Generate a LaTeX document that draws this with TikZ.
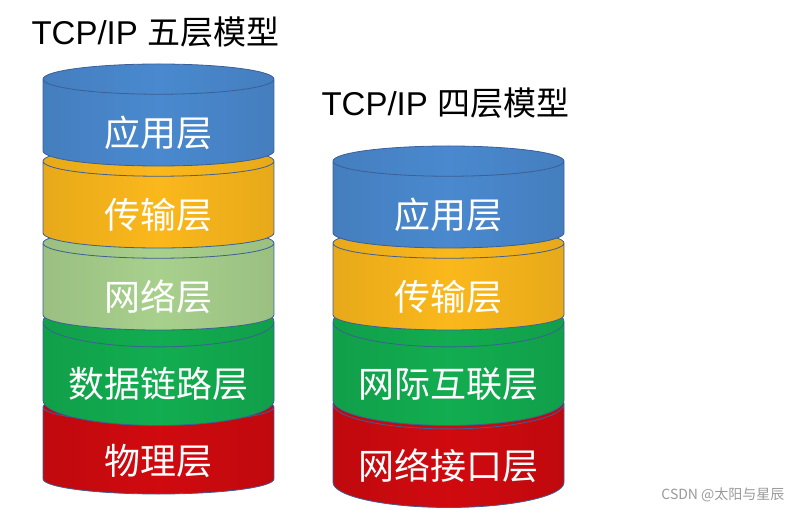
\documentclass[tikz,border=0pt]{standalone}
\usepackage{fontspec}
\setmainfont{Liberation Sans}
\newfontfamily\cjk{Noto Sans CJK SC}
\usetikzlibrary{shapes.geometric}
\definecolor{appblue}{HTML}{4A89CF}
\definecolor{transyellow}{HTML}{FBB81C}
\definecolor{netgreen}{HTML}{A8D08D}
\definecolor{linkgreen}{HTML}{12AD50}
\definecolor{phyred}{HTML}{D00A0F}
\definecolor{rim}{HTML}{3B5F96}
\begin{document}
\begin{tikzpicture}[x=1pt,y=-1pt,
    layer/.style = {cylinder, shape border rotate=90, aspect=0.28, minimum width=231pt,
                    minimum height=102pt, inner sep=0pt, draw=rim, line width=0.8pt,
                    left color=#1!92!black, right color=#1!92!black, middle color=#1,
                    text height=50pt, text depth=3pt,
                    text=white, font=\cjk\fontsize{36}{40}\selectfont, anchor=shape center},
    title/.style = {anchor=west, font=\fontsize{33}{37}\selectfont}]
    \useasboundingbox (0,0) rectangle (792,510);
    % five-layer model, bottom up
    \node[layer=phyred] (phy5) at (158.5,443) {物理层};
    \node[layer=linkgreen] (link5) at (158.5,361) {数据链路层};
    \node[layer=netgreen] (net5) at (158.5,279) {网络层};
    \node[layer=transyellow] (trans5) at (158.5,197) {传输层};
    \node[layer=appblue] (app5) at (158.5,115) {应用层};
    % four-layer model
    \node[layer=phyred] (iface4) at (448.5,443) {网络接口层};
    \node[layer=linkgreen] (inet4) at (448.5,361) {网际互联层};
    \node[layer=transyellow] (trans4) at (448.5,279) {传输层};
    \node[layer=appblue] (app4) at (448.5,197) {应用层};
    % titles
    \node[title] (title5) at (28,32) {TCP/IP {\cjk 五层模型}};
    \node[title] (title4) at (318,103) {TCP/IP {\cjk 四层模型}};
    \node[anchor=east, text=black!40, font=\cjk\fontsize{14}{16}\selectfont] (mark) at (788,495) {CSDN @太阳与星辰};
\end{tikzpicture}
\end{document}
